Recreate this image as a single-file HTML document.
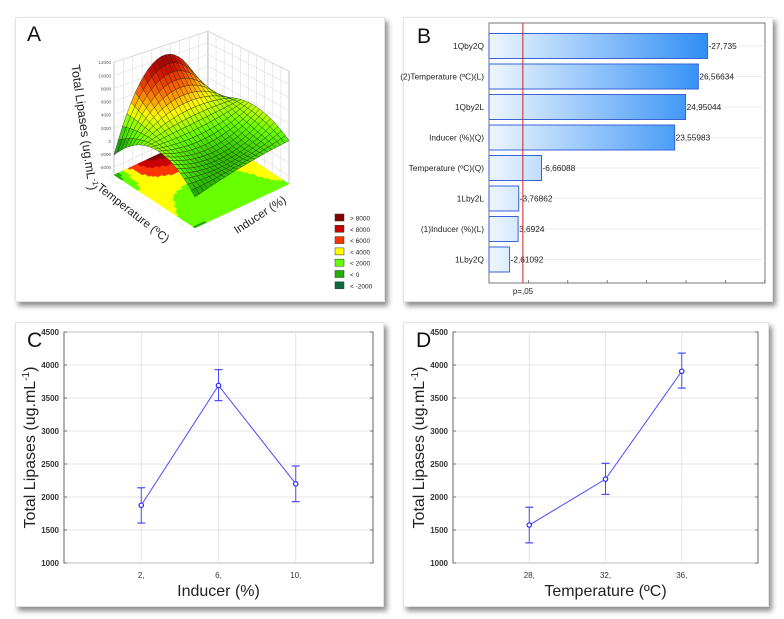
<!DOCTYPE html>
<html><head><meta charset="utf-8">
<style>
body{margin:0;background:#fff;width:784px;height:619px;overflow:hidden;font-family:"Liberation Sans",sans-serif;}
.card{position:absolute;background:#fff;box-shadow:3px 4px 5px rgba(0,0,0,0.45);border:1px solid #e4e4e4;}
svg{position:absolute;left:0;top:0;}
</style></head>
<body>
<div class="card" style="left:15px;top:17px;width:368px;height:283px"></div>
<div class="card" style="left:403px;top:17px;width:368px;height:283px"></div>
<div class="card" style="left:15px;top:322px;width:367px;height:283px"></div>
<div class="card" style="left:403px;top:322px;width:364px;height:283px"></div>
<svg id="s" width="784" height="619" font-family="Liberation Sans, sans-serif"></svg>
<script>
// ---------- data ----------
const surfT = [0, 0.5, 1];
const surfRow0 = [-2150, 9500, -800];
const surfRow1 = [2800, 1800, 3200];
const surfRow2 = [-475, 800, 1400];
const legendLabels = ["> 8000","< 8000","< 6000","< 4000","< 2000","< 0","< -2000"];
const legendColors = ["#800000","#c80000","#ff3300","#ffff00","#66ff00","#22b000","#0b6b3a"];
const paretoLabels = ["1Qby2Q","(2)Temperature (ºC)(L)","1Qby2L","Inducer (%)(Q)","Temperature (ºC)(Q)","1Lby2L","(1)Inducer (%)(L)","1Lby2Q"];
const paretoValues = [27.736, 26.56634, 24.95044, 23.55983, 6.66088, 3.76862, 3.6924, 2.61092];
const paretoText = ["-27,735","26,56634","24,95044","23,55983","-6,66088","-3,76862","3,6924","-2,61092"];
const pLine = 4.3;
const cCats = ["2,","6,","10,"];
const cMeans = [1875, 3690, 2200];
const cLow = [1605, 3460, 1930];
const cHigh = [2140, 3930, 2470];
const dCats = ["28,","32,","36,"];
const dMeans = [1575, 2270, 3905];
const dLow = [1305, 2040, 3650];
const dHigh = [1845, 2510, 4180];
const yTicks = [1000,1500,2000,2500,3000,3500,4000,4500];
const zTicks = [-4000,-2000,0,2000,4000,6000,8000,10000,12000];

const svg = document.getElementById('s');
const NS = 'http://www.w3.org/2000/svg';
function mk(tag, attrs, parent){const e=document.createElementNS(NS,tag);for(const k in attrs)e.setAttribute(k,attrs[k]);(parent||svg).appendChild(e);return e;}
function txt(x,y,s,attrs,parent){const e=mk('text',Object.assign({x:x,y:y},attrs),parent);e.textContent=s;return e;}

// ---------- Panel A ----------
const gA = mk('g',{});


const L=[114,175], F=[195,228], R=[289,184], B=[L[0]+R[0]-F[0], L[1]+R[1]-F[1]];
const zFloor=-5200, zs=0.00656, wallS=0.0058;
function lag(t,k){
  if(k===0) return (t-0.5)*(t-1)/0.5;
  if(k===1) return -4*t*(t-1);
  return t*(t-0.5)/0.5;
}
const rows=[surfRow0,surfRow1,surfRow2];
function zAt(i,t){let z=0;for(let a=0;a<3;a++)for(let b=0;b<3;b++)z+=rows[a][b]*lag(t,a)*lag(i,b);return z;}
function proj(i,t,z,s){s=s||zs;return [L[0]+i*(B[0]-L[0])+t*(F[0]-L[0]), L[1]+i*(B[1]-L[1])+t*(F[1]-L[1])-(z-zFloor)*s];}
const stops=[[-4000,[11,107,58]],[0,[34,176,0]],[2000,[102,255,0]],[4000,[255,255,0]],[6000,[255,110,0]],[8000,[210,16,0]],[10000,[128,0,0]]];
function col(z){if(z<=stops[0][0])return 'rgb('+stops[0][1]+')';for(let k=1;k<stops.length;k++){if(z<=stops[k][0]){const a=stops[k-1],b=stops[k];const f=(z-a[0])/(b[0]-a[0]);const c=a[1].map((v,j)=>Math.round(v+(b[1][j]-v)*f));return 'rgb('+c+')';}}return 'rgb('+stops[stops.length-1][1]+')';}
function colBand(z){if(z>8000)return legendColors[0];if(z>6000)return legendColors[1];if(z>4000)return legendColors[2];if(z>2000)return legendColors[3];if(z>0)return legendColors[4];if(z>-2000)return legendColors[5];return legendColors[6];}
function pt(p){return p[0].toFixed(1)+','+p[1].toFixed(1);}
const topZ=12000;
const wallL=[proj(0,0,zFloor),proj(1,0,zFloor),proj(1,0,topZ,wallS),proj(0,0,topZ)];
const wallR=[proj(1,0,zFloor),proj(1,1,zFloor),proj(1,1,topZ),proj(1,0,topZ,wallS)];
mk('polygon',{points:wallL.map(pt).join(' '),fill:'#fff',stroke:'#999','stroke-width':0.6},gA);
mk('polygon',{points:wallR.map(pt).join(' '),fill:'#fff',stroke:'#999','stroke-width':0.6},gA);
for(let k=1;k<10;k++){const f=k/10;
  let a=proj(f,0,zFloor),b=proj(f,0,topZ,zs+(wallS-zs)*f);mk('line',{x1:a[0],y1:a[1],x2:b[0],y2:b[1],stroke:'#ddd','stroke-width':0.6},gA);
  a=proj(1,f,zFloor);b=proj(1,f,topZ,wallS+(zs-wallS)*f);mk('line',{x1:a[0],y1:a[1],x2:b[0],y2:b[1],stroke:'#ddd','stroke-width':0.6},gA);}
zTicks.forEach(z=>{let a=proj(0,0,z),b=proj(1,0,z,wallS),c=proj(1,1,z);
  mk('polyline',{points:pt(a)+' '+pt(b)+' '+pt(c),fill:'none',stroke:'#ddd','stroke-width':0.6},gA);
  txt(a[0]-3,a[1]+2,String(z),{'font-size':4.5,fill:'#555','text-anchor':'end'},gA);});
const NF=40;
for(let a=0;a<NF;a++)for(let b=0;b<NF;b++){
  const i0=b/NF,i1=(b+1)/NF,t0=a/NF,t1=(a+1)/NF;
  const z=zAt((i0+i1)/2,(t0+t1)/2);const c=colBand(z);
  mk('polygon',{points:[proj(i0,t0,zFloor),proj(i1,t0,zFloor),proj(i1,t1,zFloor),proj(i0,t1,zFloor)].map(pt).join(' '),fill:c,stroke:c,'stroke-width':0.4},gA);}
for(let k=0;k<=10;k++){const f=k/10;
  let p=proj(f,1,zFloor);txt(p[0]+3,p[1]+5,'·',{'font-size':5,fill:'#666'},gA);
  p=proj(0,f,zFloor);txt(p[0]-5,p[1]+4,'·',{'font-size':5,fill:'#666'},gA);}
const N=22;const quads=[];
for(let a=0;a<N;a++)for(let b=0;b<N;b++){const i0=b/N,i1=(b+1)/N,t0=a/N,t1=(a+1)/N;
  quads.push({d:(t0+t1)/2+(1-(i0+i1)/2),p:[proj(i0,t0,zAt(i0,t0)),proj(i1,t0,zAt(i1,t0)),proj(i1,t1,zAt(i1,t1)),proj(i0,t1,zAt(i0,t1))],z:zAt((i0+i1)/2,(t0+t1)/2)});}
quads.sort((x,y)=>x.d-y.d);
quads.forEach(q=>{mk('polygon',{points:q.p.map(pt).join(' '),fill:col(q.z),stroke:'#1a1a1a','stroke-width':0.45,'stroke-opacity':0.8},gA);});
txt(0,0,'A',{'font-size':21,fill:'#111',transform:'translate(27,41)'},gA);
const zt=txt(0,0,'Total Lipases (ug.mL',{'font-size':12.5,fill:'#222','text-anchor':'middle',transform:'translate(80,128) rotate(82)'},gA);

const sup=mk('tspan',{'font-size':8,dy:-5},zt);sup.textContent='-1';const cl=mk('tspan',{dy:5},zt);cl.textContent=')';
txt(0,0,'Temperature (ºC)',{'font-size':11.5,fill:'#222','text-anchor':'middle',transform:'translate(131,216) rotate(38)'},gA);
txt(0,0,'Inducer (%)',{'font-size':11.5,fill:'#222','text-anchor':'middle',transform:'translate(262,218) rotate(-33)'},gA);
legendLabels.forEach((s,k)=>{const y=218+k*11.3;
  const r=mk('rect',{x:335,y:y-4,width:9,height:7,fill:legendColors[k],stroke:'#333','stroke-width':0.5},gA);
  
  const t=txt(350,y+2.5,s,{'font-size':6.5,fill:'#222'},gA);
  });

// ---------- Panel B ----------
const gB=mk('g',{});


const bx0=489,bx1=765,by0=23,by1=283,pxPer=7.88,rowH=30.5,rowTop=31;
function bX(v){return bx0+v*pxPer;}
mk('rect',{x:bx0,y:by0,width:bx1-bx0,height:by1-by0,fill:'#fff',stroke:'#555','stroke-width':0.8},gB);
for(let k=0;k<paretoValues.length;k++){const yc=rowTop+rowH*k+15;
  mk('line',{x1:bx0,x2:bx1,y1:yc,y2:yc,stroke:'#e6e6e6','stroke-width':0.8},gB);}
for(let v=5;v*pxPer<bx1-bx0;v+=5){mk('line',{x1:bX(v),x2:bX(v),y1:by1-3,y2:by1,stroke:'#555','stroke-width':0.7},gB);}
paretoValues.forEach((v,k)=>{const yc=rowTop+rowH*k+15;
  const w=bX(v)-bx0;
  const g=mk('linearGradient',{id:'g'+k,gradientUnits:'userSpaceOnUse',x1:bx0,x2:bX(27.736),y1:0,y2:0},gB);
  mk('stop',{offset:0,'stop-color':'#eef6ff'},g);mk('stop',{offset:1,'stop-color':'#2f8ef5'},g);
  const r=mk('rect',{x:bx0,y:yc-12.5,width:w,height:25,fill:'url(#g'+k+')',stroke:'#3a63d8','stroke-width':1},gB);
  
  txt(bx0-5,yc+3,paretoLabels[k],{'font-size':8.3,fill:'#222','text-anchor':'end'},gB);
  txt(bX(v)+1,yc+3,paretoText[k],{'font-size':8.3,fill:'#222'},gB);});
mk('line',{x1:bX(pLine),x2:bX(pLine),y1:by0,y2:by1,stroke:'#d02020','stroke-width':1},gB);
txt(bX(pLine)-10,294,'p=,05',{'font-size':8,fill:'#222'},gB);
txt(417,43,'B',{'font-size':21,fill:'#111'},gB);

// ---------- Panels C & D ----------
function lineChart(name,letter,x0,x1,y0,y1,cats,means,lows,highs,xTitle){
  const g=mk('g',{});
  
  
  const yMin=1000,yMax=4500;
  const Y=v=>y1-(v-yMin)/(yMax-yMin)*(y1-y0);
  const X=k=>x0+(k+1)/(cats.length+1)*(x1-x0);
  mk('rect',{x:x0,y:y0,width:x1-x0,height:y1-y0,fill:'#fff',stroke:'#555','stroke-width':0.9},g);
  yTicks.forEach(v=>{mk('line',{x1:x0,x2:x1,y1:Y(v),y2:Y(v),stroke:'#ddd','stroke-width':0.8},g);
    mk('line',{x1:x0,x2:x0+3,y1:Y(v),y2:Y(v),stroke:'#555','stroke-width':0.8},g);
    mk('line',{x1:x1-3,x2:x1,y1:Y(v),y2:Y(v),stroke:'#555','stroke-width':0.8},g);
    txt(x0-5,Y(v)+3,String(v),{'font-size':8,fill:'#333','font-weight':'bold','text-anchor':'end'},g);});
  cats.forEach((c,k)=>{mk('line',{x1:X(k),x2:X(k),y1:y0,y2:y1,stroke:'#ddd','stroke-width':0.8},g);
    txt(X(k),y1+15,c,{'font-size':8,fill:'#333','text-anchor':'middle'},g);});
  const ln=mk('polyline',{points:means.map((m,k)=>X(k)+','+Y(m)).join(' '),fill:'none',stroke:'#4a4aff','stroke-width':1},g);
  
  means.forEach((m,k)=>{
    const eb=mk('g',{},g);
    
    mk('line',{x1:X(k),x2:X(k),y1:Y(lows[k]),y2:Y(highs[k]),stroke:'#4a4aff','stroke-width':1},eb);
    mk('line',{x1:X(k)-4,x2:X(k)+4,y1:Y(lows[k]),y2:Y(lows[k]),stroke:'#4a4aff','stroke-width':1.2},eb);
    mk('line',{x1:X(k)-4,x2:X(k)+4,y1:Y(highs[k]),y2:Y(highs[k]),stroke:'#4a4aff','stroke-width':1.2},eb);
    const p=mk('circle',{cx:X(k),cy:Y(m),r:2.2,fill:'#fff',stroke:'#2a2aff','stroke-width':1.2},g);
    });
  txt(x0-37,y0+15,letter,{'font-size':21,fill:'#111'},g);
  const t=txt(0,0,'Total Lipases (ug.mL',{'font-size':16,fill:'#222','text-anchor':'middle',transform:'translate('+(x0-29)+','+((y0+y1)/2)+') rotate(-90)'},g);
  
  const s1=mk('tspan',{'font-size':10,dy:-6},t);s1.textContent='-1';const s2=mk('tspan',{dy:6},t);s2.textContent=')';
  const xt=txt((x0+x1)/2,y1+33,xTitle,{'font-size':16,fill:'#222','text-anchor':'middle'},g);
  
}
lineChart('inducer-chart','C',64,373,332,563,cCats,cMeans,cLow,cHigh,'Inducer (%)');
lineChart('temperature-chart','D',453,758,332,563,dCats,dMeans,dLow,dHigh,'Temperature (ºC)');
</script>
</body></html>
